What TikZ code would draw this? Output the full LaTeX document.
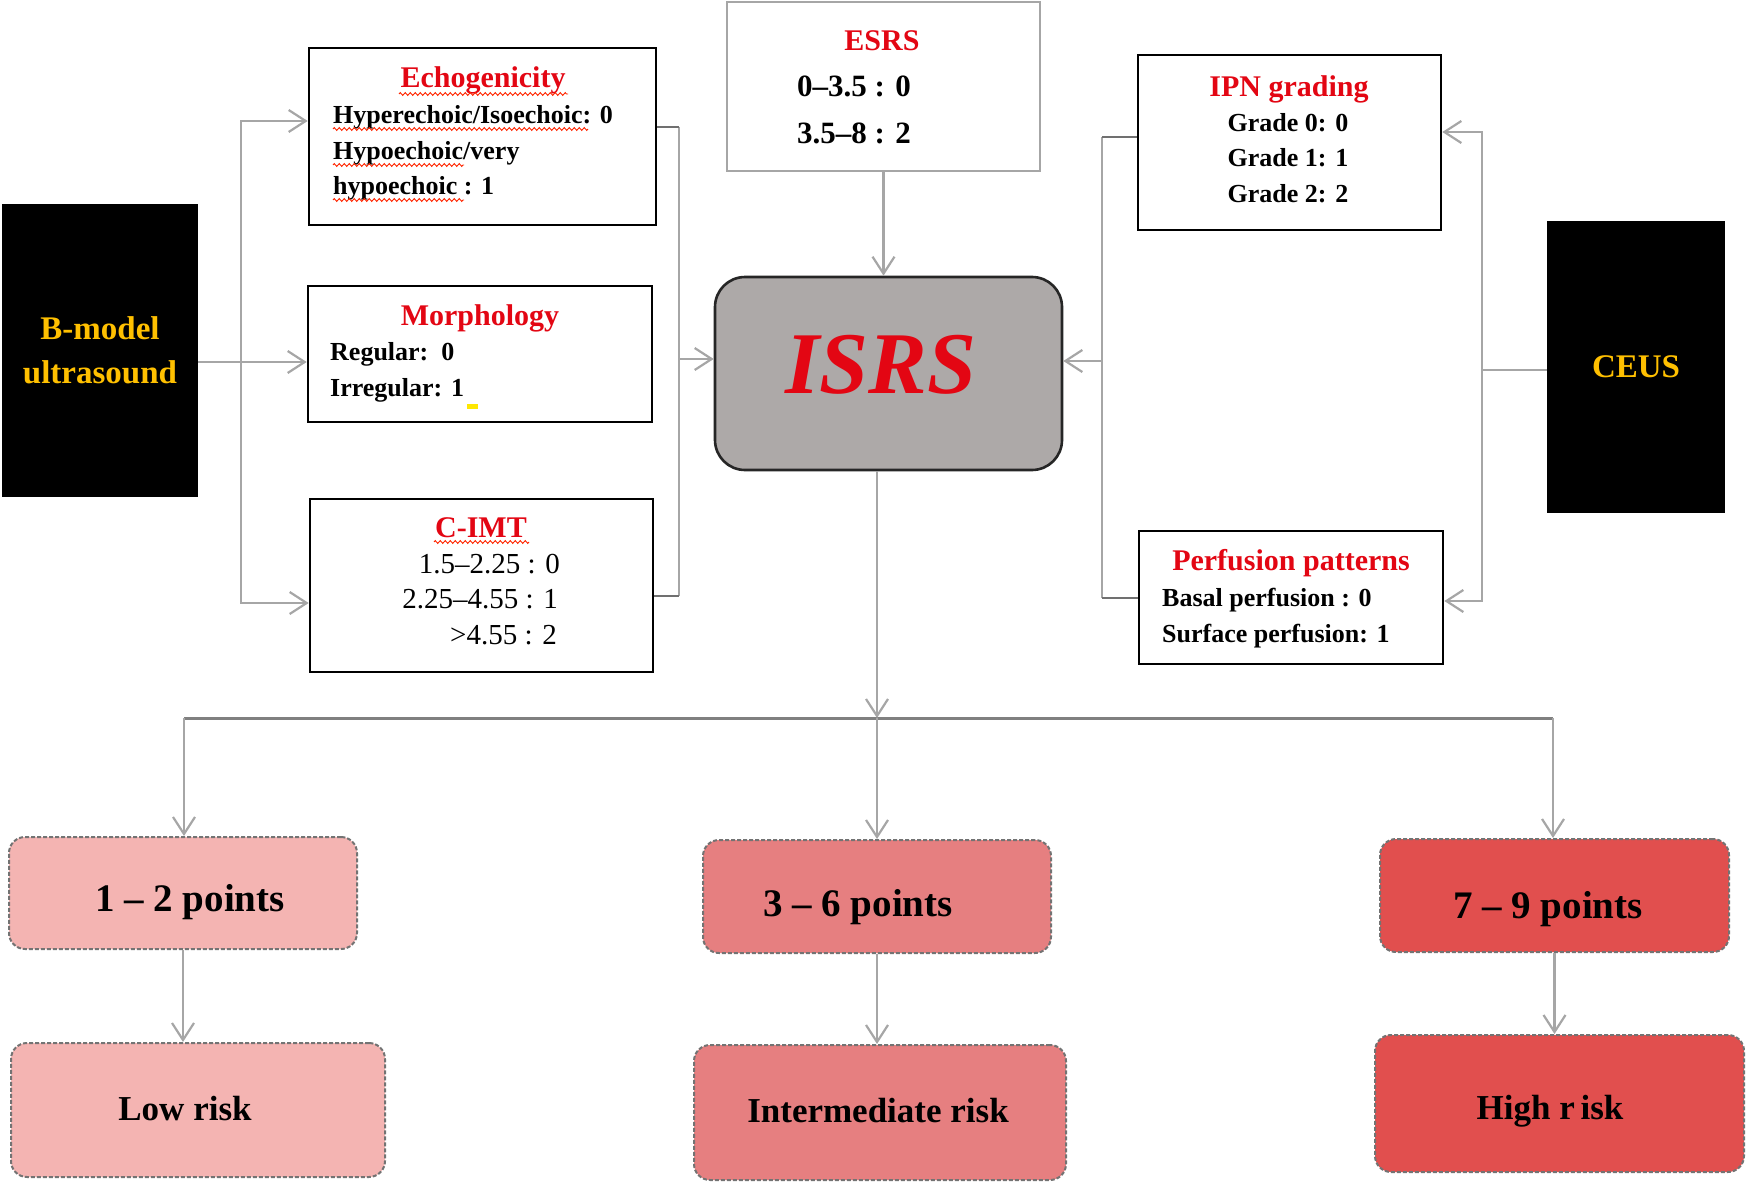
\documentclass[tikz,border=0pt]{standalone}
\usepackage{fontspec}
\setmainfont{Liberation Serif}
\usetikzlibrary{arrows.meta,decorations.pathmorphing}
\definecolor{ttl}{HTML}{E30613}
\definecolor{gold}{HTML}{FFC000}
\definecolor{conn}{HTML}{A6A6A6}
\definecolor{connd}{HTML}{707070}
\definecolor{isrsfill}{HTML}{ADA9A8}
\definecolor{pinkA}{HTML}{F4B4B2}
\definecolor{pinkB}{HTML}{E67F80}
\definecolor{pinkC}{HTML}{E14F4E}
\newcommand{\myfs}[1]{\fontsize{#1}{#1}\selectfont}
\begin{document}
\begin{tikzpicture}[x=1pt,y=-1pt,
  sz/.style 2 args={minimum width=#1pt,minimum height=#2pt},
  wbox/.style={draw=black,line width=2.6pt,fill=white,inner sep=0pt},
  gbox/.style={draw=conn,line width=2.2pt,fill=white,inner sep=0pt},
  kbox/.style={fill=black,draw=none,inner sep=0pt},
  cbox/.style={draw=black!85,line width=2.6pt,fill=isrsfill,rounded corners=30pt,inner sep=0pt},
  rbox/.style={draw=black!55,line width=2pt,dash pattern=on 4pt off 2pt,rounded corners=16pt,inner sep=0pt},
  ttlT/.style={inner sep=0pt,anchor=base,text=ttl,font=\myfs{30}\bfseries},
  bodyT/.style={inner sep=0pt,anchor=base west,font=\myfs{26}\bfseries},
  bodyC/.style={inner sep=0pt,anchor=base,font=\myfs{26}\bfseries},
  goldT/.style={inner sep=0pt,anchor=base,text=gold,font=\myfs{33}\bfseries},
  ptsT/.style={inner sep=0pt,anchor=base,font=\myfs{39}\bfseries},
  riskT/.style={inner sep=0pt,anchor=base,font=\myfs{35}\bfseries},
  line/.style={draw=conn,line width=2.2pt},
  dline/.style={draw=connd,line width=2.2pt},
  arr/.style={draw=conn,line width=2.2pt,-{Straight Barb[length=17pt,width=22pt]}},
  wavy/.style={draw=red!70!orange,line width=0.9pt,decorate,decoration={zigzag,amplitude=1.4pt,segment length=5pt}}
]
\useasboundingbox (0,0) rectangle (1750,1185);

% ---------- boxes ----------
\node[kbox,sz={196}{293}] (bm) at (100,350.5) {};
\node[wbox,sz={347}{177}] (echo) at (482.5,136.5) {};
\node[wbox,sz={344}{136}] (morph) at (480,354) {};
\node[wbox,sz={343}{173}] (cimt) at (481.5,585.5) {};
\node[gbox,sz={313}{169}] (esrs) at (883.5,86.5) {};
\node[cbox,sz={347}{193}] (isrs) at (888.5,373.5) {};
\node[wbox,sz={303}{175}] (ipn) at (1289.5,142.5) {};
\node[wbox,sz={304}{133}] (perf) at (1291,597.5) {};
\node[kbox,sz={178}{292}] (ceus) at (1636,367) {};
\node[rbox,fill=pinkA,sz={348}{112}] (p1) at (183,893) {};
\node[rbox,fill=pinkB,sz={348}{113}] (p2) at (877,896.5) {};
\node[rbox,fill=pinkC,sz={349}{113}] (p3) at (1554.5,895.5) {};
\node[rbox,fill=pinkA,sz={374}{134}] (r1) at (198,1110) {};
\node[rbox,fill=pinkB,sz={372}{135}] (r2) at (880,1112.5) {};
\node[rbox,fill=pinkC,sz={369}{137}] (r3) at (1559.5,1103.5) {};

% ---------- texts ----------
\node[goldT] (bmA) at (100,339) {B-model};
\node[goldT] (bmB) at (100,383) {ultrasound};
\node[goldT] (ceusT) at (1636,377) {CEUS};

\node[ttlT] (echoT) at (483,88) {Echogenicity};
\node[bodyT] (echo1) at (333,124) {Hyperechoic/Isoechoic: 0};
\node[bodyT] (echo2) at (333,160) {Hypoechoic/very};
\node[bodyT] (echo3) at (333,194) {hypoechoic : 1};

\node[ttlT] (morphT) at (480,325) {Morphology};
\node[bodyT] (morph1) at (330,360) {Regular:\ \ 0};
\node[bodyT] (morph2) at (330,396) {Irregular: 1};

\node[ttlT] (cimtT) at (481,537) {C-IMT};
\node[inner sep=0pt,anchor=base east,font=\myfs{29}] (cimt1) at (560,573) {1.5–2.25 : 0};
\node[inner sep=0pt,anchor=base east,font=\myfs{29}] (cimt2) at (558,608) {2.25–4.55 : 1};
\node[inner sep=0pt,anchor=base east,font=\myfs{29}] (cimt3) at (557,644) {>4.55 : 2};

\node[ttlT] (esrsT) at (882,51) {ESRS};
\node[inner sep=0pt,anchor=base west,font=\myfs{31}\bfseries] (esrs1) at (797,97) {0–3.5 : 0};
\node[inner sep=0pt,anchor=base west,font=\myfs{31}\bfseries] (esrs2) at (797,144) {3.5–8 : 2};

\node[inner sep=0pt,anchor=base,text=ttl,font=\myfs{88}\bfseries\itshape] (isrsT) at (881,393) {ISRS};

\node[ttlT] (ipnT) at (1289,97) {IPN grading};
\node[bodyC] (ipn1) at (1288,132) {Grade 0: 0};
\node[bodyC] (ipn2) at (1288,167) {Grade 1: 1};
\node[bodyC] (ipn3) at (1288,203) {Grade 2: 2};

\node[ttlT] (perfT) at (1291,570) {Perfusion patterns};
\node[bodyT] (perf1) at (1162,606) {Basal perfusion : 0};
\node[bodyT] (perf2) at (1162,642) {Surface perfusion: 1};

\node[ptsT] (p1T) at (190,911) {1 – 2 points};
\node[ptsT] (p2T) at (858,916) {3 – 6 points};
\node[ptsT] (p3T) at (1548,918) {7 – 9 points};
\node[riskT] (r1T) at (185,1120) {Low risk};
\node[riskT] (r2T) at (878,1122) {Intermediate risk};
\node[riskT] (r3T) at (1550,1119) {High r\,isk};

% spell-check marks
\draw[wavy] (399,94) -- (568,94);
\draw[wavy] (333,129) -- (588,129);
\draw[wavy] (333,165) -- (464,165);
\draw[wavy] (333,200) -- (464,200);
\draw[wavy] (434,542) -- (529,542);
\fill[yellow!90!orange] (467,404) rectangle (478,409);

% ---------- connectors ----------
\coordinate (jL) at (241,362);
\coordinate (jLt) at (241,121);
\coordinate (jLb) at (241,603);
\draw[line] (bm.east |- jL) -- (jL);
\draw[arr] (jL) -- (jLt) -- (echo.west |- jLt);
\draw[arr] (jL) -- (morph.west |- jL);
\draw[arr] (jL) -- (jLb) -- (cimt.west |- jLb);

\coordinate (jM) at (679,359);
\coordinate (jMt) at (679,127);
\coordinate (jMb) at (679,596);
\draw[line] (jMt) -- (jMb);
\draw[dline] (echo.east |- jMt) -- (jMt);
\draw[dline] (cimt.east |- jMb) -- (jMb);
\draw[arr] (jM) -- (isrs.west |- jM);

\draw[arr] (esrs.south) -- (esrs.south |- isrs.north);

\coordinate (jR) at (1102,361);
\coordinate (jRt) at (1102,137);
\coordinate (jRb) at (1102,598);
\draw[line] (jRt) -- (jRb);
\draw[dline] (ipn.west |- jRt) -- (jRt);
\draw[dline] (perf.west |- jRb) -- (jRb);
\draw[arr] (jR) -- (isrs.east |- jR);

\coordinate (jC) at (1482,370);
\coordinate (jCt) at (1482,132);
\coordinate (jCb) at (1482,601);
\draw[line] (ceus.west |- jC) -- (jC);
\draw[arr] (jC) -- (jCt) -- (ipn.east |- jCt);
\draw[arr] (jC) -- (jCb) -- (perf.east |- jCb);

\coordinate (jB) at (877,718);
\coordinate (busL) at (184,718);
\coordinate (busR) at (1553,718);
\draw[draw=black!50,line width=3pt] (busL) -- (busR);
\draw[arr] (isrs.south -| jB) -- (jB);
\draw[arr] (busL) -- (p1.north -| busL);
\draw[arr] (jB) -- (p2.north -| jB);
\draw[arr] (busR) -- (p3.north -| busR);

\draw[arr] (p1.south) -- (p1.south |- r1.north);
\draw[arr] (p2.south) -- (p2.south |- r2.north);
\draw[arr] (p3.south) -- (p3.south |- r3.north);
\end{tikzpicture}
\end{document}
